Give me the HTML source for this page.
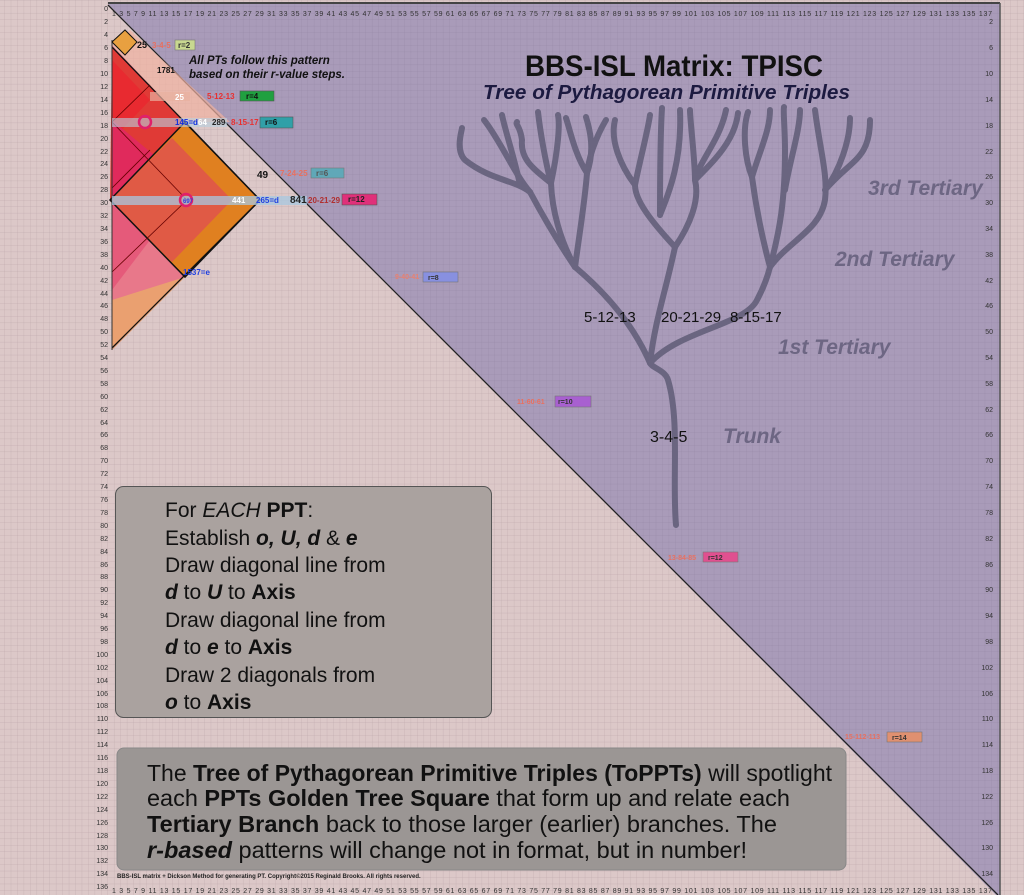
<!DOCTYPE html>
<html><head><meta charset="utf-8"><style>
html,body{margin:0;padding:0;width:1024px;height:895px;overflow:hidden;background:#dcc8c8}
svg{display:block}
.num{font-family:"Liberation Sans",sans-serif;font-size:7px;fill:#333}
</style></head><body>
<svg width="1024" height="895" viewBox="0 0 1024 895" xmlns="http://www.w3.org/2000/svg">
<defs>
<pattern id="g" x="108" y="7" width="6.45" height="6.45" patternUnits="userSpaceOnUse">
<path d="M6.45 0V6.45H0" fill="none" stroke="#b9a3a8" stroke-width="0.5"/>
</pattern>
<pattern id="g2" x="108" y="7" width="6.45" height="6.45" patternUnits="userSpaceOnUse">
<path d="M6.45 0V6.45H0" fill="none" stroke="#9386a3" stroke-width="0.5"/>
</pattern>
</defs>
<rect width="1024" height="895" fill="#dcc8c8"/>
<rect width="1024" height="895" fill="url(#g)"/>
<polygon points="108,4 1000,4 1000,895 996,895" fill="#a99bb9"/>
<polygon points="108,4 1000,4 1000,895 996,895" fill="url(#g2)"/>
<line x1="108" y1="3" x2="1000" y2="3" stroke="#444" stroke-width="2"/>
<line x1="1000" y1="3" x2="1000" y2="895" stroke="#555" stroke-width="1.5"/>
<line x1="108" y1="5" x2="998" y2="895" stroke="#222" stroke-width="1.3"/>

<!-- colored construction -->
<polygon points="112,45 260,200 112,350" fill="#e8788a"/>
<polygon points="112,300 185,277 112,350" fill="#eaa070"/>
<polygon points="112,45 130,30 230,122 185,122" fill="#f0b0a0" opacity="0.7"/>
<polygon points="112,47 185,122 110,200" fill="#e03a36"/>
<polygon points="112,60 150,100 112,140" fill="#e82a30"/>
<polygon points="112,120 160,160 112,200" fill="#e02a5c"/>
<polygon points="112,200 150,240 112,290" fill="#e55a7a"/>
<polygon points="110,200 185,122 260,200 185,277" fill="#e08020"/>
<polygon points="110,200 172,138 232,200 172,262" fill="#e05a45"/>
<polygon points="110,200 185,122 260,200 185,277" fill="none" stroke="#111" stroke-width="1.5"/>
<line x1="112" y1="47" x2="260" y2="200" stroke="#111" stroke-width="1.3"/>
<line x1="260" y1="200" x2="112" y2="348" stroke="#111" stroke-width="1.3"/>
<line x1="112" y1="122" x2="187" y2="200" stroke="#600" stroke-width="0.8"/>
<line x1="187" y1="200" x2="112" y2="272" stroke="#600" stroke-width="0.8"/>
<line x1="150" y1="85" x2="112" y2="122" stroke="#600" stroke-width="0.8"/>
<line x1="150" y1="150" x2="112" y2="188" stroke="#600" stroke-width="0.8"/>
<line x1="112" y1="40" x2="112" y2="350" stroke="#333" stroke-width="1"/>
<polygon points="112,42 125,30 137,42 125,55" fill="#e8a040" stroke="#111"/>
<rect x="112" y="196" width="195" height="9" fill="#a8c8e0" opacity="0.75"/>
<rect x="112" y="118" width="115" height="9" fill="#b8d0e0" opacity="0.6"/>
<rect x="150" y="92" width="40" height="9" fill="#e8b0a0" opacity="0.7"/>
<circle cx="186" cy="200" r="6" fill="none" stroke="#e0206a" stroke-width="2.5"/>
<circle cx="145" cy="122" r="6" fill="none" stroke="#e0206a" stroke-width="2.5"/>
<g font-family="Liberation Sans,sans-serif" font-weight="bold" font-size="8">
<text x="175" y="125" fill="#1030e0">145=d</text><text x="198" y="125" fill="#fff">64</text><text x="212" y="125" fill="#222">289</text>
<text x="183" y="203" fill="#3040e0" font-size="6">697</text>
<text x="232" y="203" fill="#fff">441</text><text x="256" y="203" fill="#2040e0">265=d</text>
<text x="290" y="203" fill="#222" font-size="10">841</text>
<text x="183" y="275" fill="#2040e0">1537=e</text>
<text x="137" y="48" fill="#111" font-size="9">25</text>
<text x="257" y="178" fill="#111" font-size="10">49</text>
<text x="157" y="73" fill="#111">1781</text>
<text x="175" y="100" fill="#fff">25</text>
</g>

<!-- tags -->
<g font-family="Liberation Sans,sans-serif" font-weight="bold" font-size="8">
<text x="152" y="48" fill="#e87060">3-4-5</text><rect x="175" y="40" width="20" height="10" fill="#c8d890" stroke="#777" stroke-width="0.6"/><text x="178" y="48" fill="#333">r=2</text>
<text x="207" y="99" fill="#e83030">5-12-13</text><rect x="240" y="91" width="34" height="10" fill="#20a040" stroke="#555" stroke-width="0.6"/><text x="246" y="99" fill="#111">r=4</text>
<text x="231" y="125" fill="#e83030">8-15-17</text><rect x="260" y="117" width="33" height="11" fill="#30a0a8" stroke="#555" stroke-width="0.6"/><text x="265" y="125" fill="#111">r=6</text>
<text x="280" y="176" fill="#e87060">7-24-25</text><rect x="311" y="168" width="33" height="10" fill="#60a8b8" stroke="#777" stroke-width="0.6"/><text x="316" y="176" fill="#555">r=6</text>
<text x="308" y="203" fill="#b03030">20-21-29</text><rect x="342" y="194" width="35" height="11" fill="#e0307a" stroke="#555" stroke-width="0.6"/><text x="348" y="202" fill="#222">r=12</text>
<text x="395" y="279" fill="#e88070" font-size="7">9-40-41</text><rect x="423" y="272" width="35" height="10" fill="#8890e0" stroke="#777" stroke-width="0.6"/><text x="428" y="280" fill="#333" font-size="7">r=8</text>
<text x="517" y="404" fill="#e87060" font-size="7">11-60-61</text><rect x="555" y="396" width="36" height="11" fill="#a860d0" stroke="#777" stroke-width="0.6"/><text x="558" y="404" fill="#333" font-size="7">r=10</text>
<text x="668" y="560" fill="#e87060" font-size="7">13-84-85</text><rect x="703" y="552" width="35" height="10" fill="#e05090" stroke="#777" stroke-width="0.6"/><text x="708" y="560" fill="#333" font-size="7">r=12</text>
<text x="845" y="739" fill="#e87060" font-size="7">15-112-113</text><rect x="887" y="732" width="35" height="10" fill="#e09070" stroke="#777" stroke-width="0.6"/><text x="892" y="740" fill="#333" font-size="7">r=14</text>
</g>
<g font-family="Liberation Sans,sans-serif" font-weight="bold" font-style="italic" font-size="11.5" fill="#111">
<text x="189" y="64">All PTs follow this pattern</text>
<text x="189" y="78">based on their r-value steps.</text>
</g>

<!-- titles -->
<text x="525" y="76" font-family="Liberation Sans,sans-serif" font-weight="bold" font-size="30" textLength="298" lengthAdjust="spacingAndGlyphs" fill="#111">BBS-ISL Matrix: TPISC</text>
<text x="483" y="99" font-family="Liberation Sans,sans-serif" font-weight="bold" font-style="italic" font-size="20" textLength="367" lengthAdjust="spacingAndGlyphs" fill="#1c1a40">Tree of Pythagorean Primitive Triples</text>

<!-- tree -->
<g fill="none" stroke="#6a6580" stroke-width="6" stroke-linecap="round">
<path d="M676,525 C672,480 680,420 668,380 C665,370 652,368 650,363 C640,340 620,305 575,267"/>
<path d="M650,363 C655,320 666,290 675,247"/>
<path d="M650,363 C680,330 745,325 757,300 C765,285 768,275 770,267"/>
<path d="M575,267 C560,245 545,220 530,192"/>
<path d="M575,267 C560,240 552,210 551,183"/>
<path d="M575,267 C580,230 585,200 587,173"/>
<path d="M530,192 C515,180 490,180 465,160 C455,150 462,130 462,128"/>
<path d="M530,192 C515,175 500,140 484,120"/>
<path d="M520,185 C515,160 505,130 502,115"/>
<path d="M551,183 C535,170 520,160 522,140 C520,125 515,125 517,122"/>
<path d="M551,183 C545,160 540,130 538,112"/>
<path d="M551,183 C558,150 560,125 558,115"/>
<path d="M587,173 C575,155 570,130 566,118"/>
<path d="M587,173 C590,150 600,130 606,120"/>
<path d="M587,173 C595,150 590,130 586,117"/>
<path d="M675,247 C650,220 635,200 635,185 C620,165 610,140 615,120"/>
<path d="M635,185 C640,160 648,130 650,115"/>
<path d="M675,247 C690,225 700,200 695,180 C695,160 690,120 690,110"/>
<path d="M660,215 C660,180 660,140 662,108"/>
<path d="M660,215 C670,190 682,160 680,110"/>
<path d="M695,180 C700,160 720,140 726,110"/>
<path d="M695,180 C715,160 735,140 738,113"/>
<path d="M770,267 C760,230 755,200 752,177 C745,160 742,130 748,112"/>
<path d="M752,177 C760,150 770,130 770,110"/>
<path d="M770,267 C780,230 785,200 785,150 C785,130 783,110 784,107"/>
<path d="M785,190 C790,160 800,130 800,110"/>
<path d="M770,267 C790,240 820,230 825,200 C828,175 820,150 815,110"/>
<path d="M825,190 C840,170 850,140 850,118"/>
<path d="M825,190 C850,160 870,160 870,120"/>
</g>
<g font-family="Liberation Sans,sans-serif" font-size="15" fill="#111">
<text x="584" y="322">5-12-13</text><text x="661" y="322">20-21-29</text><text x="730" y="322">8-15-17</text>
<text x="650" y="442" font-size="16">3-4-5</text>
</g>
<g font-family="Liberation Sans,sans-serif" font-weight="bold" font-style="italic" font-size="21" fill="#6d6683">
<text x="868" y="195">3rd Tertiary</text>
<text x="835" y="266">2nd Tertiary</text>
<text x="778" y="354">1st Tertiary</text>
<text x="723" y="443">Trunk</text>
</g>

<!-- boxes -->
<rect x="115.5" y="486.5" width="376" height="231" rx="8" fill="#aaa29f" stroke="#555"/>
<g font-family="Liberation Sans,sans-serif" font-size="21" fill="#111">
<text x="165" y="517">For <tspan font-style="italic">EACH</tspan> <tspan font-weight="bold">PPT</tspan>:</text>
<text x="165" y="545">Establish <tspan font-weight="bold" font-style="italic">o, U, d</tspan> &amp; <tspan font-weight="bold" font-style="italic">e</tspan></text>
<text x="165" y="572">Draw diagonal line from</text>
<text x="165" y="599"><tspan font-weight="bold" font-style="italic">d</tspan> to <tspan font-weight="bold" font-style="italic">U</tspan> to <tspan font-weight="bold">Axis</tspan></text>
<text x="165" y="627">Draw diagonal line from</text>
<text x="165" y="654"><tspan font-weight="bold" font-style="italic">d</tspan> to <tspan font-weight="bold" font-style="italic">e</tspan> to <tspan font-weight="bold">Axis</tspan></text>
<text x="165" y="682">Draw 2 diagonals from</text>
<text x="165" y="709"><tspan font-weight="bold" font-style="italic">o</tspan> to <tspan font-weight="bold">Axis</tspan></text>
</g>
<rect x="117" y="748" width="729" height="122" rx="7" fill="#9b9694" stroke="#888"/>
<g font-family="Liberation Sans Narrow,Liberation Sans,sans-serif" font-size="23" fill="#111">
<text x="147" y="781" textLength="685" lengthAdjust="spacingAndGlyphs">The <tspan font-weight="bold">Tree of Pythagorean Primitive Triples (ToPPTs)</tspan> will spotlight</text>
<text x="147" y="806" textLength="643" lengthAdjust="spacingAndGlyphs">each <tspan font-weight="bold">PPTs Golden Tree Square</tspan> that form up and relate each</text>
<text x="147" y="832" textLength="630" lengthAdjust="spacingAndGlyphs"><tspan font-weight="bold">Tertiary Branch</tspan> back to those larger (earlier) branches. The</text>
<text x="147" y="858" textLength="600" lengthAdjust="spacingAndGlyphs"><tspan font-weight="bold" font-style="italic">r-based</tspan> patterns will change not in format, but in number!</text>
</g>
<text x="117" y="878" font-family="Liberation Sans,sans-serif" font-weight="bold" font-size="6" fill="#222">BBS-ISL matrix + Dickson Method for generating PT. Copyright©2015 Reginald Brooks. All rights reserved.</text>

<!-- axis numbers -->
<g class="num" text-anchor="end">
<text x="108" y="11">0</text><text x="108" y="24">2</text><text x="108" y="37">4</text><text x="108" y="50">6</text><text x="108" y="63">8</text><text x="108" y="76">10</text><text x="108" y="89">12</text><text x="108" y="102">14</text><text x="108" y="115">16</text><text x="108" y="128">18</text><text x="108" y="141">20</text><text x="108" y="154">22</text><text x="108" y="166">24</text><text x="108" y="179">26</text><text x="108" y="192">28</text><text x="108" y="205">30</text><text x="108" y="218">32</text><text x="108" y="231">34</text><text x="108" y="244">36</text><text x="108" y="257">38</text><text x="108" y="270">40</text><text x="108" y="283">42</text><text x="108" y="296">44</text><text x="108" y="308">46</text><text x="108" y="321">48</text><text x="108" y="334">50</text><text x="108" y="347">52</text><text x="108" y="360">54</text><text x="108" y="373">56</text><text x="108" y="386">58</text><text x="108" y="399">60</text><text x="108" y="412">62</text><text x="108" y="425">64</text><text x="108" y="437">66</text><text x="108" y="450">68</text><text x="108" y="463">70</text><text x="108" y="476">72</text><text x="108" y="489">74</text><text x="108" y="502">76</text><text x="108" y="515">78</text><text x="108" y="528">80</text><text x="108" y="541">82</text><text x="108" y="554">84</text><text x="108" y="567">86</text><text x="108" y="579">88</text><text x="108" y="592">90</text><text x="108" y="605">92</text><text x="108" y="618">94</text><text x="108" y="631">96</text><text x="108" y="644">98</text><text x="108" y="657">100</text><text x="108" y="670">102</text><text x="108" y="683">104</text><text x="108" y="696">106</text><text x="108" y="708">108</text><text x="108" y="721">110</text><text x="108" y="734">112</text><text x="108" y="747">114</text><text x="108" y="760">116</text><text x="108" y="773">118</text><text x="108" y="786">120</text><text x="108" y="799">122</text><text x="108" y="812">124</text><text x="108" y="825">126</text><text x="108" y="838">128</text><text x="108" y="850">130</text><text x="108" y="863">132</text><text x="108" y="876">134</text><text x="108" y="889">136</text>
</g>
<g class="num" text-anchor="end">
<text x="993" y="24">2</text><text x="993" y="50">6</text><text x="993" y="76">10</text><text x="993" y="102">14</text><text x="993" y="128">18</text><text x="993" y="154">22</text><text x="993" y="179">26</text><text x="993" y="205">30</text><text x="993" y="231">34</text><text x="993" y="257">38</text><text x="993" y="283">42</text><text x="993" y="308">46</text><text x="993" y="334">50</text><text x="993" y="360">54</text><text x="993" y="386">58</text><text x="993" y="412">62</text><text x="993" y="437">66</text><text x="993" y="463">70</text><text x="993" y="489">74</text><text x="993" y="515">78</text><text x="993" y="541">82</text><text x="993" y="567">86</text><text x="993" y="592">90</text><text x="993" y="618">94</text><text x="993" y="644">98</text><text x="993" y="670">102</text><text x="993" y="696">106</text><text x="993" y="721">110</text><text x="993" y="747">114</text><text x="993" y="773">118</text><text x="993" y="799">122</text><text x="993" y="825">126</text><text x="993" y="850">130</text><text x="993" y="876">134</text>
</g>
<text class="num" x="112" y="16" textLength="880" lengthAdjust="spacing">1 3 5 7 9 11 13 15 17 19 21 23 25 27 29 31 33 35 37 39 41 43 45 47 49 51 53 55 57 59 61 63 65 67 69 71 73 75 77 79 81 83 85 87 89 91 93 95 97 99 101 103 105 107 109 111 113 115 117 119 121 123 125 127 129 131 133 135 137</text>
<text class="num" x="112" y="893" textLength="880" lengthAdjust="spacing">1 3 5 7 9 11 13 15 17 19 21 23 25 27 29 31 33 35 37 39 41 43 45 47 49 51 53 55 57 59 61 63 65 67 69 71 73 75 77 79 81 83 85 87 89 91 93 95 97 99 101 103 105 107 109 111 113 115 117 119 121 123 125 127 129 131 133 135 137</text>
</svg>
</body></html>
